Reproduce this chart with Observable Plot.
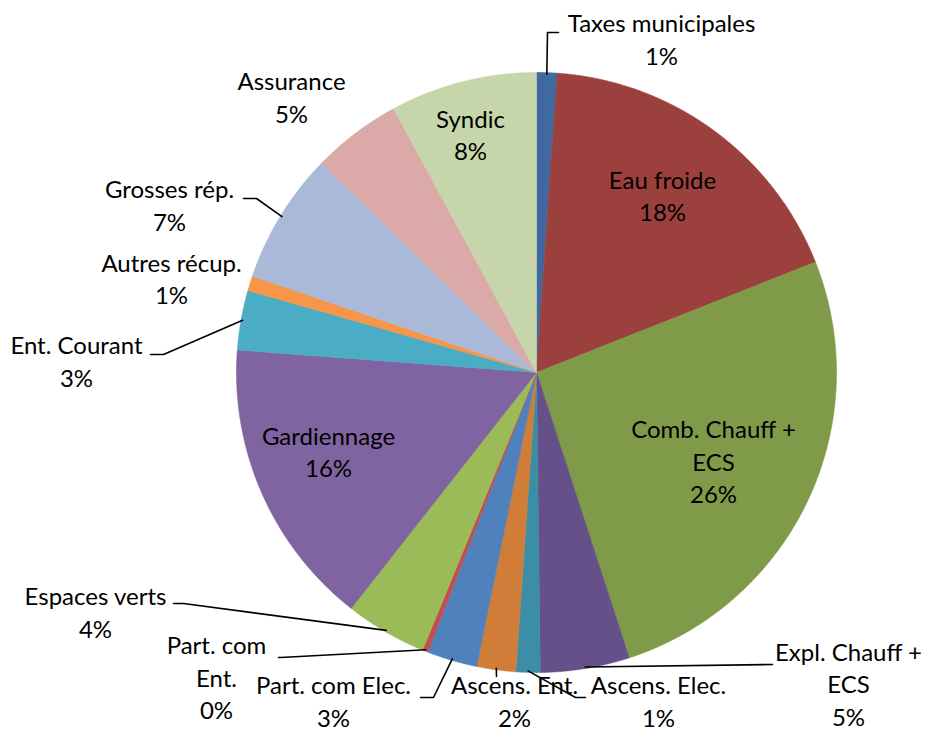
<!DOCTYPE html>
<html><head><meta charset="utf-8">
<script src="https://cdn.jsdelivr.net/npm/d3@7"></script>
<script src="https://cdn.jsdelivr.net/npm/@observablehq/plot@0.6"></script>
<style>body{margin:0;background:#fff}</style>
</head><body><div id="chart"></div>
<script>
// ---- data ----
const categories = ["Taxes municipales","Eau froide","Comb. Chauff + ECS","Expl. Chauff + ECS","Ascens. Elec.","Ascens. Ent.","Part. com Elec.","Part. com Ent.","Espaces verts","Gardiennage","Ent. Courant","Autres récup.","Grosses rép.","Assurance","Syndic"];
const values = [1.1, 17.9, 26.0, 4.8, 1.3, 2.1, 2.7, 0.3, 4.4, 15.6, 3.2, 0.8, 7.1, 4.8, 7.9];
const colors = ["#4068a1","#9c403d","#7f9b4a","#66508a","#3b8ea5","#d07d39","#4f81bd","#c0504d","#9bbb59","#8064a2","#4bacc6","#f79646","#aab9d8","#dba9a8","#c6d5aa"];

// ---- layout ----
const cx = 536, cy = 372, R = 300;
const labelText = ["Taxes municipales","Eau froide","Comb. Chauff +\nECS","Expl. Chauff +\nECS","Ascens. Elec.","Ascens. Ent.","Part. com Elec.","Part. com\nEnt.","Espaces verts","Gardiennage","Ent. Courant","Autres récup.","Grosses rép.","Assurance","Syndic"];
const labelPos = [[661,40.5],[662,197],[713,463],[848,685.5],[658,702.5],[514,702.5],[333,702.5],[216,679],[95,613.5],[328,453],[76,362.5],[171,280],[169,206.5],[291,98.5],[470,136]];
// leader: [elbow, end] or null
const leaders = [[[547,32],[558,32]], null, null, [[772,664],[772,664]], [[575,697],[585,697]], [[496,676],[496,676]], [[433,697],[420,697]], [[280,657],[278,657]], [[183,603],[173,603]], null, [[163,354],[150,354]], null, [[256,198],[243,198]], null, null];

const total = d3.sum(values);
const arcs = d3.pie().sort(null).value(d => d)(values);

const slicePts = [];
arcs.forEach((a, i) => {
  slicePts.push({k: i, x: cx, y: cy, c: colors[i]});
  const n = Math.max(2, Math.ceil((a.endAngle - a.startAngle) / 0.005));
  for (let j = 0; j <= n; j++) {
    const t = a.startAngle + (a.endAngle - a.startAngle) * j / n;
    slicePts.push({k: i, x: cx + R * Math.sin(t), y: cy - R * Math.cos(t), c: colors[i]});
  }
  slicePts.push({k: i, x: cx, y: cy, c: colors[i]});
});

const leaderPts = [];
arcs.forEach((a, i) => {
  if (!leaders[i]) return;
  const m = (a.startAngle + a.endAngle) / 2;
  leaderPts.push({k: i, x: cx + R * 0.995 * Math.sin(m), y: cy - R * 0.995 * Math.cos(m)});
  leaderPts.push({k: i, x: leaders[i][0][0], y: leaders[i][0][1]});
  leaderPts.push({k: i, x: leaders[i][1][0], y: leaders[i][1][1]});
});

const labels = categories.map((c, i) => ({
  text: labelText[i] + "\n" + Math.round(values[i] / total * 100) + "%",
  x: labelPos[i][0], y: labelPos[i][1]
}));

const chart = Plot.plot({
  width: 926, height: 731,
  margin: 0,
  x: {domain: [0, 926], range: [0, 926], axis: null},
  y: {domain: [0, 731], range: [0, 731], axis: null},
  color: {type: "identity"},
  style: {fontFamily: "Lato, 'Open Sans', sans-serif", background: "#fff"},
  marks: [
    Plot.line(slicePts, {x: "x", y: "y", z: "k", fill: "c", stroke: "c", strokeWidth: 0.6, curve: "linear"}),
    Plot.line(leaderPts, {x: "x", y: "y", z: "k", stroke: "#000", strokeWidth: 1.6}),
    Plot.text(labels, {x: "x", y: "y", dy: -3, text: "text", fontSize: 24, lineHeight: 1.35, lineAnchor: "middle", textAnchor: "middle", fill: "#000"})
  ]
});
document.getElementById("chart").append(chart);
</script>
</body></html>
